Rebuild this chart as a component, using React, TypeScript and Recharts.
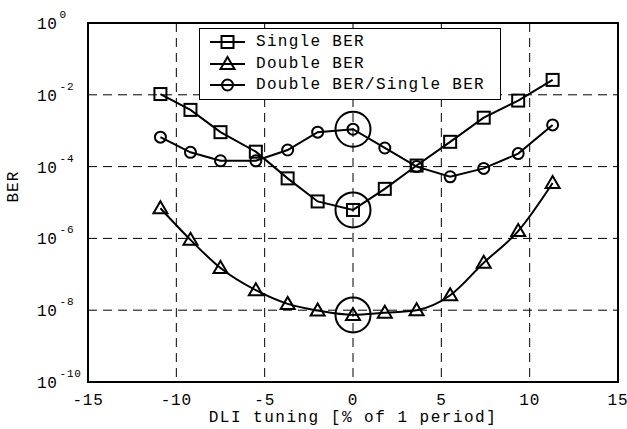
import React from 'react'
import {
  LineChart, Line, XAxis, YAxis, CartesianGrid, Legend,
  ReferenceArea, ReferenceDot,
} from 'recharts'

// DLI tuning [% of 1 period]
const tuning = [-10.9, -9.2, -7.5, -5.5, -3.7, -2.0, 0, 1.8, 3.6, 5.5, 7.4, 9.35, 11.3]
const singleBer = [1.05e-2, 3.8e-3, 9.1e-4, 2.6e-4, 4.7e-5, 1.07e-5, 6.2e-6, 2.4e-5, 1.07e-4, 4.9e-4, 2.3e-3, 6.9e-3, 2.6e-2]
const doubleBer = [6.9e-6, 9.1e-7, 1.5e-7, 3.6e-8, 1.5e-8, 9.8e-9, 7.4e-9, 8.5e-9, 1.0e-8, 2.6e-8, 2.1e-7, 1.6e-6, 3.5e-5]
const ratioBer = [6.6e-4, 2.5e-4, 1.45e-4, 1.45e-4, 2.9e-4, 9.1e-4, 1.1e-3, 3.3e-4, 1.0e-4, 5.2e-5, 8.9e-5, 2.3e-4, 1.45e-3]

const xTicks = [-15, -10, -5, 0, 5, 10, 15]
const yTicks = [1e-10, 1e-8, 1e-6, 1e-4, 1e-2, 1]
const highlightIdx = 6 // the circled points at 0 %

const labels = {
  single: 'Single BER',
  double: 'Double BER',
  ratio: 'Double BER/Single BER',
}

const data = tuning.map((x, i) => ({
  x,
  single: singleBer[i],
  double: doubleBer[i],
  ratio: ratioBer[i],
}))

const FONT = '"Liberation Mono", "DejaVu Sans Mono", monospace'
const SW = 2

function Square({ cx, cy }: { cx: number; cy: number }) {
  return <rect x={cx - 6} y={cy - 6} width={12} height={12} fill="none" stroke="#000" strokeWidth={SW} />
}
function Triangle({ cx, cy }: { cx: number; cy: number }) {
  return <path d={`M${cx},${cy - 7} L${cx + 7},${cy + 5} L${cx - 7},${cy + 5} Z`} fill="none" stroke="#000" strokeWidth={SW} strokeLinejoin="miter" />
}
function Circle({ cx, cy }: { cx: number; cy: number }) {
  return <circle cx={cx} cy={cy} r={5.5} fill="none" stroke="#000" strokeWidth={SW} />
}

const dotOf = (Shape: typeof Square) => (p: any) => {
  if (p.cx == null || p.cy == null) return <g key={p.index} />
  return <Shape key={p.index} cx={p.cx} cy={p.cy} />
}

function XTick({ x, y, payload }: any) {
  return (
    <text x={x} y={y + 15} textAnchor="middle" fontFamily={FONT} fontSize={16} letterSpacing={0.8} fill="#000">
      {payload.value}
    </text>
  )
}

function YTick({ y, payload }: any) {
  const exp = Math.round(Math.log10(payload.value))
  return (
    <text x={37} y={y + 6} fontFamily={FONT} fontSize={16} letterSpacing={0.7} fill="#000">
      10
      <tspan dx={2} dy={-11} fontSize={11}>{exp}</tspan>
    </text>
  )
}

const noLabel = () => <g />
const innerTick = { stroke: '#000', strokeWidth: 1 }

function LegendBox() {
  const rows: { key: keyof typeof labels; Shape: typeof Square }[] = [
    { key: 'single', Shape: Square },
    { key: 'double', Shape: Triangle },
    { key: 'ratio', Shape: Circle },
  ]
  return (
    <div style={{
      width: 302, height: 72, boxSizing: 'border-box', border: '1.5px solid #000',
      background: '#fff', paddingTop: 2,
    }}>
      {rows.map(({ key, Shape }) => (
        <div key={key} style={{ display: 'flex', alignItems: 'center', height: 21.7 }}>
          <svg width={56} height={20} style={{ flex: 'none' }}>
            <line x1={10} x2={45} y1={10} y2={10} stroke="#000" strokeWidth={SW} />
            <Shape cx={27.5} cy={10} />
          </svg>
          <span style={{ fontFamily: FONT, fontSize: 16, letterSpacing: 1.3, whiteSpace: 'pre', lineHeight: '20px' }}>
            {labels[key]}
          </span>
        </div>
      ))}
    </div>
  )
}

export default function App() {
  return (
    <div style={{ position: 'absolute', left: 0, top: 0, background: '#fff' }}>
      <LineChart width={627} height={429} data={data} margin={{ top: 23, right: 9, bottom: 0, left: 0 }}>
        <CartesianGrid stroke="#000" strokeWidth={1} strokeDasharray="9 6" />
        <XAxis
          dataKey="x" type="number" domain={[-15, 15]} ticks={xTicks}
          axisLine={false} tickLine={false} tick={<XTick />} height={47}
          label={{ value: 'DLI tuning [% of 1 period]', position: 'insideBottom', offset: 7, fontFamily: FONT, fontSize: 16, letterSpacing: 1.5, fill: '#000' } as any}
        />
        <YAxis
          scale="log" domain={[1e-10, 1]} ticks={yTicks} allowDataOverflow
          axisLine={false} tickLine={false} tick={<YTick />} width={88}
          label={{ value: 'BER', angle: -90, position: 'insideLeft', offset: 12, fontFamily: FONT, fontSize: 16, letterSpacing: 1, fill: '#000' } as any}
        />
        {/* inward tick marks on all four sides */}
        <XAxis xAxisId="top" orientation="top" type="number" domain={[-15, 15]} ticks={xTicks} mirror height={0}
          axisLine={false} tickSize={5} tickLine={innerTick} tick={noLabel} />
        <XAxis xAxisId="bottom" orientation="bottom" type="number" domain={[-15, 15]} ticks={xTicks} mirror height={0}
          axisLine={false} tickSize={5} tickLine={innerTick} tick={noLabel} />
        <YAxis yAxisId="right" orientation="right" scale="log" domain={[1e-10, 1]} ticks={yTicks} allowDataOverflow mirror width={0}
          axisLine={false} tickSize={5} tickLine={innerTick} tick={noLabel} />
        <YAxis yAxisId="left" orientation="left" scale="log" domain={[1e-10, 1]} ticks={yTicks} allowDataOverflow mirror width={0}
          axisLine={false} tickSize={5} tickLine={innerTick} tick={noLabel} />
        <ReferenceArea x1={-15} x2={15} y1={1e-10} y2={1} fill="none" stroke="#000" strokeWidth={2} ifOverflow="visible" />
        <Legend
          layout="vertical" align="center" verticalAlign="middle"
          content={() => <LegendBox />}
          wrapperStyle={{ position: 'absolute', left: 199, top: 28, width: 302, height: 72 }}
        />
        <Line dataKey="single" name={labels.single} type="linear" stroke="#000" strokeWidth={SW} dot={dotOf(Square)} isAnimationActive={false} />
        <Line dataKey="double" name={labels.double} type="monotone" stroke="#000" strokeWidth={SW} dot={dotOf(Triangle)} isAnimationActive={false} />
        <Line dataKey="ratio" name={labels.ratio} type="linear" stroke="#000" strokeWidth={SW} dot={dotOf(Circle)} isAnimationActive={false} />
        <ReferenceDot x={tuning[highlightIdx]} y={singleBer[highlightIdx]} r={17.5} fill="none" stroke="#000" strokeWidth={2} />
        <ReferenceDot x={tuning[highlightIdx]} y={doubleBer[highlightIdx]} r={17.5} fill="none" stroke="#000" strokeWidth={2} />
        <ReferenceDot x={tuning[highlightIdx]} y={ratioBer[highlightIdx]} r={17.5} fill="none" stroke="#000" strokeWidth={2} />
      </LineChart>
    </div>
  )
}
